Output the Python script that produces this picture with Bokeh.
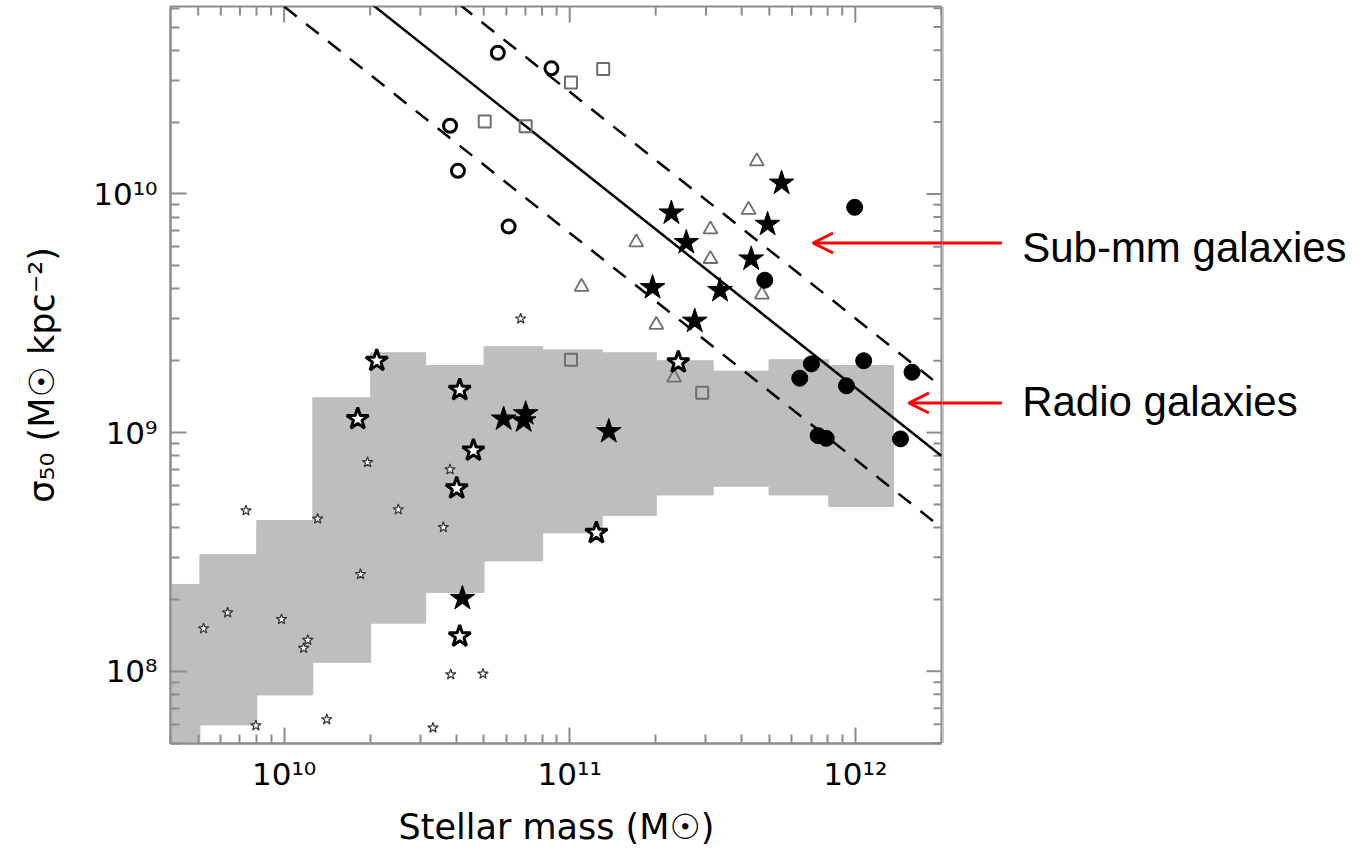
import math
from bokeh.plotting import figure
from bokeh.layouts import row
from bokeh.models import Range1d, FixedTicker, Arrow, OpenHead, Label
from bokeh.embed import file_html
from bokeh.resources import INLINE

# ---------------- data (stellar mass in M_sun, sigma_50 in M_sun kpc^-2) ----------------
# grey band: distribution of the comparison sample (bin edges in stellar mass)
band_edges = [3.16e9, 5.07e9, 8.02e9, 1.26e10, 2.01e10, 3.13e10, 5.01e10, 8.04e10,
              1.30e11, 2.01e11, 3.18e11, 4.99e11, 8.07e11, 1.36e12]
band_top = [2.31e8, 3.08e8, 4.28e8, 1.40e9, 2.16e9, 1.91e9, 2.29e9, 2.22e9,
            2.16e9, 2.00e9, 1.81e9, 2.02e9, 1.91e9]
band_bottom = [3.0e7, 5.96e7, 7.96e7, 1.09e8, 1.59e8, 2.14e8, 2.90e8, 3.80e8,
               4.49e8, 5.48e8, 5.96e8, 5.48e8, 4.90e8]

# relation (solid) and its +/- scatter (dashed)
fit_m = [1.0e10, 2.0e12]
fit_s = [1.22e11, 8.0e8]
upper_s = [2.38e11, 1.56e9]
lower_s = [6.1e10, 4.0e8]

# open circles
ocirc_m = [5.60e10, 8.63e10, 3.81e10, 4.06e10, 6.11e10]
ocirc_s = [3.90e10, 3.36e10, 1.93e10, 1.25e10, 7.30e9]

# open squares
sq_m = [1.01e11, 1.31e11, 5.04e10, 7.01e10, 1.01e11, 2.91e11]
sq_s = [2.93e10, 3.34e10, 2.01e10, 1.92e10, 2.02e9, 1.47e9]

# open triangles
tri_m = [4.52e11, 4.23e11, 3.11e11, 1.71e11, 3.11e11, 1.10e11, 4.71e11, 2.01e11, 2.32e11]
tri_s = [1.37e10, 8.58e9, 7.10e9, 6.27e9, 5.34e9, 4.08e9, 3.79e9, 2.83e9, 1.70e9]

# filled stars
fstar_m = [5.52e11, 2.27e11, 4.93e11, 2.56e11, 4.32e11, 1.95e11, 3.36e11, 2.74e11,
           5.87e10, 7.01e10, 6.90e10, 1.37e11, 4.21e10]
fstar_s = [1.11e10, 8.32e9, 7.46e9, 6.26e9, 5.34e9, 4.05e9, 3.94e9, 2.93e9,
           1.14e9, 1.20e9, 1.12e9, 1.01e9, 2.02e8]

# large open stars
ostar_m = [2.11e10, 4.12e10, 1.81e10, 4.60e10, 4.02e10, 2.40e11, 1.24e11, 4.12e10]
ostar_s = [2.00e9, 1.51e9, 1.14e9, 8.41e8, 5.84e8, 1.97e9, 3.80e8, 1.40e8]

# small open stars
sstar_m = [6.73e10, 1.96e10, 3.81e10, 7.35e9, 1.31e10, 2.51e10, 3.61e10, 1.85e10,
           6.34e9, 5.22e9, 9.79e9, 1.21e10, 1.17e10, 3.83e10, 4.97e10, 7.96e9,
           1.41e10, 3.32e10]
sstar_s = [3.00e9, 7.51e8, 7.00e8, 4.71e8, 4.35e8, 4.76e8, 4.01e8, 2.55e8,
           1.76e8, 1.51e8, 1.65e8, 1.35e8, 1.25e8, 9.69e7, 9.75e7, 5.92e7,
           6.28e7, 5.79e7]

# filled circles
fcirc_m = [9.95e11, 4.82e11, 7.02e11, 6.39e11, 1.07e12, 9.31e11, 1.58e12, 7.41e11,
           7.91e11, 1.44e12]
fcirc_s = [8.79e9, 4.35e9, 1.94e9, 1.69e9, 2.00e9, 1.57e9, 1.79e9, 9.71e8,
           9.46e8, 9.41e8]

# axes
x_ticks = [1e10, 1e11, 1e12]
x_tick_labels = ["10\u00b9\u2070", "10\u00b9\u00b9", "10\u00b9\u00b2"]
y_ticks = [1e8, 1e9, 1e10]
y_tick_labels = ["10\u2078", "10\u2079", "10\u00b9\u2070"]
x_label = "Stellar mass (M\u2609)"
y_label = "\u03c3\u2085\u2080 (M\u2609 kpc\u207b\u00b2)"

annot_texts = ["Sub-mm galaxies", "Radio galaxies"]

# ---------------- layout constants ----------------
AX = "#8c8c8c"
FONT = "DejaVu Sans"
BAND = "#bebebe"
X0, X1 = 4.0e9, 2.02e12
Y0, Y1 = 4.98e7, 6.1e10
FRAME_W = 772          # plot panel width (px)
SIDE_W = 428           # annotation strip to the right (px)
TOP, BOTTOM, LEFT = 6, 120, 170
H = 863

x_minor = [m * 10.0 ** e for e in range(9, 13) for m in range(2, 10)]
y_minor = [m * 10.0 ** e for e in range(7, 11) for m in range(2, 10)]

y_range = Range1d(Y0, Y1)

p = figure(width=LEFT + FRAME_W, height=H, x_axis_type="log", y_axis_type="log",
           x_range=Range1d(X0, X1), y_range=y_range,
           output_backend="svg", toolbar_location=None,
           min_border_left=LEFT, min_border_right=0,
           min_border_top=TOP, min_border_bottom=BOTTOM)
p.grid.visible = False
p.outline_line_color = AX
p.outline_line_width = 2
p.background_fill_color = "white"
p.border_fill_color = "white"


def style_axis(ax):
    ax.axis_line_color = AX
    ax.axis_line_width = 2
    ax.major_tick_line_color = AX
    ax.major_tick_line_width = 2
    ax.minor_tick_line_color = AX
    ax.minor_tick_line_width = 2
    ax.major_tick_in = 16
    ax.major_tick_out = 0
    ax.minor_tick_in = 9
    ax.minor_tick_out = 0
    ax.major_label_text_font = FONT
    ax.major_label_text_font_size = "31px"
    ax.major_label_text_color = "black"
    ax.axis_label_text_font = FONT
    ax.axis_label_text_font_size = "35px"
    ax.axis_label_text_font_style = "normal"
    ax.axis_label_text_color = "black"


xa = p.xaxis[0]
xa.ticker = FixedTicker(ticks=x_ticks, minor_ticks=x_minor)
xa.major_label_overrides = dict(zip(x_ticks, x_tick_labels))
xa.axis_label = x_label
style_axis(xa)
xa.major_label_standoff = 12
xa.axis_label_standoff = 12

ya = p.yaxis[0]
ya.ticker = FixedTicker(ticks=y_ticks, minor_ticks=y_minor)
ya.major_label_overrides = dict(zip(y_ticks, y_tick_labels))
ya.axis_label = y_label
style_axis(ya)
ya.major_label_standoff = 13
ya.axis_label_standoff = 28

# mirrored inward ticks on the top and right edges of the panel
x_minor_in = [v for v in x_minor if X0 < v < X1]
y_minor_in = [v for v in y_minor if Y0 < v < Y1]
p.ray(x=x_ticks, y=[Y1] * len(x_ticks), length=16, length_units="screen",
      angle=-math.pi / 2, line_color=AX, line_width=2)
p.ray(x=x_minor_in, y=[Y1] * len(x_minor_in), length=9, length_units="screen",
      angle=-math.pi / 2, line_color=AX, line_width=2)
p.ray(x=[X1] * len(y_ticks), y=y_ticks, length=16, length_units="screen",
      angle=math.pi, line_color=AX, line_width=2)
p.ray(x=[X1] * len(y_minor_in), y=y_minor_in, length=9, length_units="screen",
      angle=math.pi, line_color=AX, line_width=2)

# grey band
p.quad(left=band_edges[:-1], right=band_edges[1:], top=band_top, bottom=band_bottom,
       fill_color=BAND, line_color=BAND, line_width=1)

# relation lines
p.line(fit_m, fit_s, line_color="black", line_width=2.5)
p.line(fit_m, upper_s, line_color="black", line_width=2.5, line_dash="16 12")
p.line(fit_m, lower_s, line_color="black", line_width=2.5, line_dash="16 12")

# markers
p.scatter(sstar_m, sstar_s, marker="star", size=11, fill_color="white",
          line_color="#333333", line_width=1.2)
p.scatter(sq_m, sq_s, marker="square", size=12, fill_color=None,
          line_color="#6e6e6e", line_width=2)
p.scatter(tri_m, tri_s, marker="triangle", size=14, fill_color=None,
          line_color="#6e6e6e", line_width=1.8)
p.scatter(ocirc_m, ocirc_s, marker="circle", size=13, fill_color=None,
          line_color="black", line_width=3)
p.scatter(ostar_m, ostar_s, marker="star", size=23, fill_color="white",
          line_color="black", line_width=3)
p.scatter(fstar_m, fstar_s, marker="star", size=26, fill_color="black",
          line_color="black", line_width=1)
p.scatter(fcirc_m, fcirc_s, marker="circle", size=16, fill_color="black",
          line_color="black", line_width=1)

# ---------------- annotation strip (continues the same log mass scale) ----------------
px_per_decade = FRAME_W / math.log10(X1 / X0)
X2 = X1 * 10 ** (SIDE_W / px_per_decade)
p2 = figure(width=SIDE_W, height=H, x_axis_type="log", y_axis_type="log",
            x_range=Range1d(X1, X2), y_range=y_range,
            x_axis_location=None, y_axis_location=None,
            output_backend="svg", toolbar_location=None,
            min_border_left=0, min_border_right=0,
            min_border_top=TOP, min_border_bottom=BOTTOM)
p2.grid.visible = False
p2.outline_line_color = None
p2.background_fill_color = "white"
p2.border_fill_color = "white"
p2.segment(x0=[X1], y0=[Y0], x1=[X1], y1=[Y1], line_color=AX, line_width=2)

arrow_tail_m = 3.26e12
arrow_head_m = [7.11e11, 1.54e12]
arrow_s = [6.23e9, 1.33e9]
label_m = 3.84e12
label_s = [5.97e9, 1.35e9]

for hm, s in zip(arrow_head_m, arrow_s):
    p.add_layout(Arrow(end=OpenHead(size=20, line_color="red", line_width=3),
                       x_start=arrow_tail_m, y_start=s, x_end=hm, y_end=s,
                       line_color="red", line_width=3))
    p2.add_layout(Arrow(end=None, x_start=arrow_tail_m, y_start=s, x_end=hm, y_end=s,
                        line_color="red", line_width=3))

for t, s in zip(annot_texts, label_s):
    p2.add_layout(Label(x=label_m, y=s, text=t, text_font="Liberation Sans",
                        text_font_size="42px", text_baseline="alphabetic",
                        text_color="black"))

layout = row(p, p2, spacing=0)
open("out.html", "w").write(file_html(layout, INLINE))
